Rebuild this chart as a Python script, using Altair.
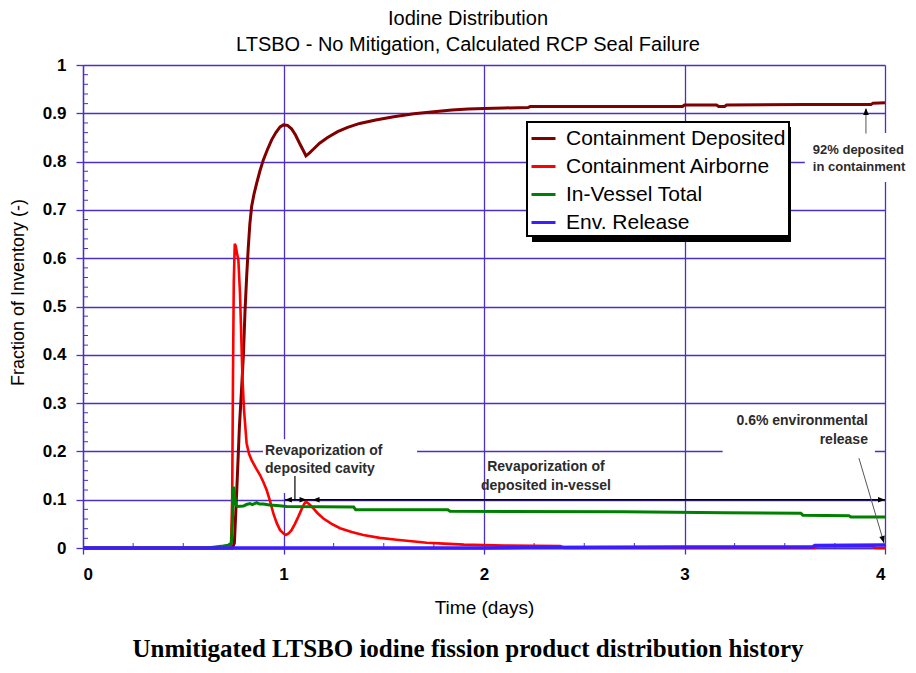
import altair as alt
import pandas as pd

# ---------------- data ----------------
series_names = ["Containment Deposited", "Containment Airborne", "In-Vessel Total", "Env. Release"]
series_colors = ["#800000", "#FF0000", "#008000", "#3A1EFF"]

dep_t = [0, 0.745, 0.755, 0.766, 0.78, 0.791, 0.80, 0.808, 0.816, 0.824, 0.832, 0.841, 0.853,
         0.866, 0.882, 0.899, 0.92, 0.941, 0.962, 0.983, 1.0, 1.02, 1.04, 1.06, 1.08, 1.1, 1.112,
         1.13, 1.15, 1.18, 1.22, 1.27, 1.32, 1.38, 1.46, 1.55, 1.65, 1.75, 1.84, 1.92, 2.0, 2.1,
         2.22, 2.23, 2.6, 2.99, 3.0, 3.16, 3.17, 3.2, 3.21, 3.6, 3.93, 3.94, 4.0]
dep_v = [0, 0, 0.01, 0.11, 0.25, 0.33, 0.40, 0.49, 0.56, 0.62, 0.67, 0.707, 0.733,
         0.755, 0.78, 0.803, 0.825, 0.845, 0.86, 0.872, 0.876, 0.875, 0.868, 0.855, 0.838, 0.822, 0.812,
         0.818, 0.826, 0.838, 0.85, 0.862, 0.871, 0.879, 0.886, 0.893, 0.899, 0.903, 0.907, 0.909, 0.910, 0.911,
         0.912, 0.914, 0.914, 0.914, 0.917, 0.917, 0.914, 0.914, 0.917, 0.918, 0.918, 0.921, 0.922]

air_t = [0, 0.738, 0.744, 0.748, 0.752, 0.757, 0.762, 0.768, 0.775, 0.783, 0.788, 0.795, 0.803,
         0.816, 0.828, 0.841, 0.862, 0.883, 0.9, 0.916, 0.933, 0.949, 0.966, 0.983, 1.0, 1.012,
         1.025, 1.04, 1.057, 1.074, 1.09, 1.103, 1.112, 1.13, 1.149, 1.17, 1.199, 1.24, 1.282, 1.34,
         1.398, 1.48, 1.564, 1.64, 1.714, 1.8, 1.9, 2.0, 2.1, 2.38, 2.4, 3.65, 3.66, 3.94, 3.95, 4.0]
air_v = [0, 0, 0.1, 0.35, 0.55, 0.63, 0.625, 0.61, 0.596, 0.527, 0.458, 0.355, 0.286,
         0.217, 0.195, 0.182, 0.166, 0.151, 0.136, 0.12, 0.097, 0.072, 0.052, 0.037, 0.03, 0.027,
         0.03, 0.037, 0.05, 0.065, 0.08, 0.091, 0.096, 0.09, 0.082, 0.072, 0.061, 0.05, 0.041, 0.033,
         0.027, 0.021, 0.017, 0.014, 0.011, 0.009, 0.007, 0.006, 0.005, 0.004, 0.0, 0.0, 0.003, 0.003, 0.0, 0.0]

ves_t = [0, 0.62, 0.66, 0.7, 0.725, 0.74, 0.745, 0.75, 0.756, 0.762, 0.77, 0.8, 0.815, 0.833,
         0.845, 0.866, 0.88, 0.9, 0.93, 0.966, 1.016, 1.35, 1.36, 1.82, 1.83, 2.7, 3.2, 3.58, 3.59,
         3.82, 3.83, 4.0]
ves_v = [0, 0, 0.002, 0.004, 0.006, 0.01, 0.05, 0.127, 0.11, 0.09, 0.086, 0.087, 0.09, 0.092,
         0.09, 0.094, 0.091, 0.091, 0.089, 0.088, 0.086, 0.085, 0.079, 0.079, 0.076, 0.075, 0.073, 0.072,
         0.068, 0.067, 0.064, 0.064]

env_t = [0, 2.0, 2.2, 3.0, 3.64, 3.65, 4.0]
env_v = [0, 0.0, 0.001, 0.002, 0.002, 0.005, 0.006]

# annotations
ann_left_text = ["Revaporization of", "deposited cavity"]
ann_left_x = [0.908, 0.908]
ann_left_y = [0.2008, 0.1636]
ann_edge_text = ["92% deposited", "in containment"]
ann_edge_x = [3.64, 3.64]
ann_edge_y = [0.824, 0.789]
ann_center_text = ["Revaporization of", "deposited in-vessel"]
ann_center_x = [2.309, 2.309]
ann_center_y = [0.168, 0.129]
ann_right_text = ["0.6% environmental", "release"]
ann_right_x = [3.915, 3.915]
ann_right_y = [0.263, 0.2236]

# white boxes behind annotation text
box_x1 = [0.898, 3.19, 3.60]
box_x2 = [1.666, 3.95, 4.16]
box_y1 = [0.114, 0.186, 0.758]
box_y2 = [0.225, 0.285, 0.859]

# arrow shafts
seg_x1 = [1.007, 1.057, 3.905, 3.87]
seg_y1 = [0.1, 0.1, 0.858, 0.186]
seg_x2 = [4.0, 1.057, 3.905, 3.995]
seg_y2 = [0.1, 0.149, 0.909, 0.0104]
seg_c = ["#000000", "#000000", "#555555", "#555555"]
seg_w = [1.5, 1.2, 1.0, 1.0]

# arrow heads
head_x = [1.007, 1.115, 1.145, 4.0, 3.905, 3.995]
head_y = [0.1, 0.1, 0.1, 0.1, 0.911, 0.0104]
head_a = [270, 90, 270, 90, 0, 163.6]

caption = "Unmitigated LTSBO iodine fission product distribution history"

x_major = [0, 1, 2, 3, 4]
y_major = [round(i * 0.1, 1) for i in range(11)]
x_minor = [i * 0.25 for i in range(17) if i % 4]
y_minor = [round(i * 0.02, 2) for i in range(51) if i % 5]

# ---------------- styling ----------------
GRID = "#4B2FC8"
SANS = "Liberation Sans, Arial, sans-serif"
W, H = 802, 483

x_scale = alt.Scale(domain=[0, 4], nice=False, zero=False)
y_scale = alt.Scale(domain=[0, 1], nice=False, zero=False)

x_axis = alt.Axis(values=x_major, format="d", title="Time (days)", grid=True,
                  gridColor=GRID, gridWidth=1.3, gridOpacity=1,
                  domainColor=GRID, domainWidth=1.3, tickColor=GRID, tickWidth=1.3, tickSize=6,
                  labelFont=SANS, labelFontSize=17, labelFontWeight="bold", labelColor="black",
                  labelPadding=12, titleFont=SANS, titleFontSize=19, titleFontWeight="normal",
                  titleColor="black", titlePadding=16)
y_axis = alt.Axis(values=y_major, format="~g", title="Fraction of Inventory (-)", grid=True,
                  gridColor=GRID, gridWidth=1.3, gridOpacity=1,
                  domainColor=GRID, domainWidth=1.3, tickColor=GRID, tickWidth=1.3, tickSize=7,
                  labelFont=SANS, labelFontSize=17, labelFontWeight="bold", labelColor="black",
                  labelPadding=10, titleFont=SANS, titleFontSize=18, titleFontWeight="normal",
                  titleColor="black", titleX=-56, titleY=227)


def X(f):
    return alt.X(f, type="quantitative", scale=x_scale, axis=x_axis)


def Y(f):
    return alt.Y(f, type="quantitative", scale=y_scale, axis=y_axis)


color_enc = alt.Color("series:N", scale=alt.Scale(domain=series_names, range=series_colors),
                      legend=alt.Legend(orient="none", legendX=444, legendY=57, title=None,
                                        symbolType="stroke", symbolStrokeWidth=3, symbolSize=576,
                                        labelFont=SANS, labelFontSize=21, labelColor="black",
                                        labelLimit=400, labelOffset=9, padding=3, rowPadding=4,
                                        fillColor="white", strokeColor="black"))

layers = []

# white boxes behind annotation texts
box_df = pd.DataFrame({"x1": box_x1, "x2": box_x2, "y1": box_y1, "y2": box_y2})
layers.append(alt.Chart(box_df).mark_rect(color="white", opacity=1).encode(
    x=X("x1"), x2="x2", y=Y("y1"), y2="y2"))

# minor ticks
layers.append(alt.Chart(pd.DataFrame({"m": y_minor})).mark_rule(color=GRID, strokeWidth=1).encode(
    y=Y("m"), x=alt.value(0), x2=alt.value(5)))
layers.append(alt.Chart(pd.DataFrame({"m": x_minor})).mark_rule(color=GRID, strokeWidth=1).encode(
    x=X("m"), y=alt.value(H), y2=alt.value(H - 5)))

# legend shadow
layers.append(alt.Chart(pd.DataFrame({"a": [0]})).mark_rect(color="black").encode(
    x=alt.value(449), x2=alt.value(708), y=alt.value(62), y2=alt.value(177)))

# data series
for name, ts, vs, sw in zip(series_names, [dep_t, air_t, ves_t, env_t], [dep_v, air_v, ves_v, env_v],
                            [3, 2.6, 3, 3.5]):
    d = pd.DataFrame({"t": ts, "v": vs, "series": name, "o": list(range(len(ts)))})
    layers.append(alt.Chart(d).mark_line(strokeWidth=sw, interpolate="linear").encode(
        x=X("t"), y=Y("v"), color=color_enc, order="o:Q"))

# arrow shafts
seg_df = pd.DataFrame({"x1": seg_x1, "y1": seg_y1, "x2": seg_x2, "y2": seg_y2, "c": seg_c, "w": seg_w})
layers.append(alt.Chart(seg_df).mark_rule().encode(
    x=X("x1"), y=Y("y1"), x2="x2", y2="y2",
    stroke=alt.Stroke("c:N", scale=None), strokeWidth=alt.StrokeWidth("w:Q", scale=None)))

# arrow heads
head_df = pd.DataFrame({"x": head_x, "y": head_y, "a": head_a})
layers.append(alt.Chart(head_df).mark_point(filled=True, shape="M0,0L-0.8,2L0.8,2Z", size=49,
                                             color="black", opacity=1, strokeWidth=0).encode(
    x=X("x"), y=Y("y"), angle=alt.Angle("a:Q", scale=None)))

# annotation texts
for txt, xs, ys, al, fs in [(ann_left_text, ann_left_x, ann_left_y, "left", 14),
                            (ann_edge_text, ann_edge_x, ann_edge_y, "left", 13),
                            (ann_center_text, ann_center_x, ann_center_y, "center", 14),
                            (ann_right_text, ann_right_x, ann_right_y, "right", 14)]:
    d = pd.DataFrame({"x": xs, "y": ys, "label": txt})
    layers.append(alt.Chart(d).mark_text(font=SANS, fontSize=fs, fontWeight="bold", color="#2b2b2b",
                                         align=al, baseline="middle").encode(
        x=X("x"), y=Y("y"), text="label:N"))

# caption
layers.append(alt.Chart(pd.DataFrame({"label": [caption]})).mark_text(
    font="Liberation Serif, Times New Roman, serif", fontSize=25, fontWeight="bold", color="black",
    align="center", baseline="alphabetic").encode(
    x=alt.value(385), y=alt.value(592), text="label:N"))

chart = alt.layer(*layers).properties(
    width=W, height=H,
    title=alt.Title(text=["Iodine Distribution", "LTSBO - No Mitigation, Calculated RCP Seal Failure"],
                    font=SANS, fontSize=20, fontWeight="normal", color="black", anchor="middle",
                    dx=-16, lineHeight=26, offset=1),
    padding={"left": 75, "top": 57, "right": 23, "bottom": 115},
    autosize=alt.AutoSizeParams(type="none"),
).configure_view(stroke=None).configure_legend(strokeWidth=2)

chart.save("out.html", embed_options={"renderer": "svg", "actions": False})
